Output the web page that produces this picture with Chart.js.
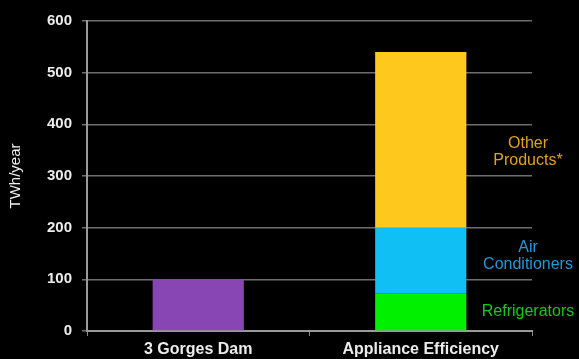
<!DOCTYPE html>
<html>
<head>
<meta charset="utf-8">
<script src="https://cdn.jsdelivr.net/npm/chart.js@4/dist/chart.umd.min.js"></script>
<style>
  html, body { margin: 0; padding: 0; background: #000; }
  #wrap { width: 579px; height: 359px; position: relative; }
</style>
</head>
<body>
<div id="wrap"><canvas id="c"></canvas></div>
<script>
// Categories along the x axis
const categories = ['3 Gorges Dam', 'Appliance Efficiency'];

// Annual electricity, TWh/year
const damOutput       = [100, null];
const refrigerators   = [null, 73];
const airConditioners = [null, 127];
const otherProducts   = [null, 340];

// Y axis ticks
const yTicks = [0, 100, 200, 300, 400, 500, 600];

// Text written beside each stacked segment
const segmentLabels = [['Refrigerators'], ['Air', 'Conditioners'], ['Other', 'Products*']];
const segmentLabelColors = ['#19c81e', '#2596d6', '#e0a31f'];

const FONT = '"Liberation Sans", Arial, Helvetica, sans-serif';

// Draws the segment names to the right of the stacked bar
const sideLabels = {
  id: 'sideLabels',
  afterDatasetsDraw(chart) {
    const ctx = chart.ctx;
    const x = chart.chartArea.right - 4;
    const nudges = [0, -4, 12];
    ctx.save();
    ctx.font = '16px ' + FONT;
    ctx.textAlign = 'center';
    ctx.textBaseline = 'middle';
    for (let d = 0; d < 3; d++) {
      const bar = chart.getDatasetMeta(d).data[1];
      const mid = (bar.y + bar.base) / 2 + nudges[d];
      const lines = segmentLabels[d];
      const lh = 17;
      ctx.fillStyle = segmentLabelColors[d];
      lines.forEach((t, i) => {
        ctx.fillText(t, x, mid + (i - (lines.length - 1) / 2) * lh);
      });
    }
    ctx.restore();
  }
};

new Chart(document.getElementById('c'), {
  type: 'bar',
  data: {
    labels: categories,
    datasets: [
      { label: 'Refrigerators', data: refrigerators, backgroundColor: '#00f000' },
      { label: 'Air Conditioners', data: airConditioners, backgroundColor: '#10bff4' },
      { label: 'Other Products*', data: otherProducts, backgroundColor: '#ffc81c' },
      { label: '3 Gorges Dam', data: damOutput, backgroundColor: '#8746b4' }
    ]
  },
  options: {
    responsive: true,
    maintainAspectRatio: false,
    animation: false,
    layout: { padding: { left: 0, right: 47, top: 21, bottom: 0 } },
    datasets: { bar: { barPercentage: 0.41, categoryPercentage: 1, borderWidth: 0 } },
    plugins: { legend: { display: false }, tooltip: { enabled: false } },
    scales: {
      x: {
        stacked: true,
        grid: { display: true, drawOnChartArea: false, color: '#8a8a8a', tickLength: 5, offset: true },
        border: { color: '#9a9a9a', width: 2 },
        ticks: { color: '#ececec', font: { family: FONT, size: 16, weight: 'bold' }, padding: 4 },
        afterFit(s) { s.height = 28; }
      },
      y: {
        stacked: true,
        min: 0,
        max: 600,
        afterBuildTicks(s) { s.ticks = yTicks.map(v => ({ value: v })); },
        grid: { color: '#6e6e6e', lineWidth: 1.5, tickLength: 5 },
        border: { color: '#9a9a9a', width: 2 },
        ticks: { color: '#ececec', font: { family: FONT, size: 15, weight: 'bold' }, padding: 10 },
        title: { display: true, text: 'TWh/year', color: '#f0f0f0', font: { family: FONT, size: 15 }, padding: { top: 7, bottom: 0 } },
        afterFit(s) { s.width = 87; }
      }
    }
  },
  plugins: [sideLabels]
});
</script>
</body>
</html>
